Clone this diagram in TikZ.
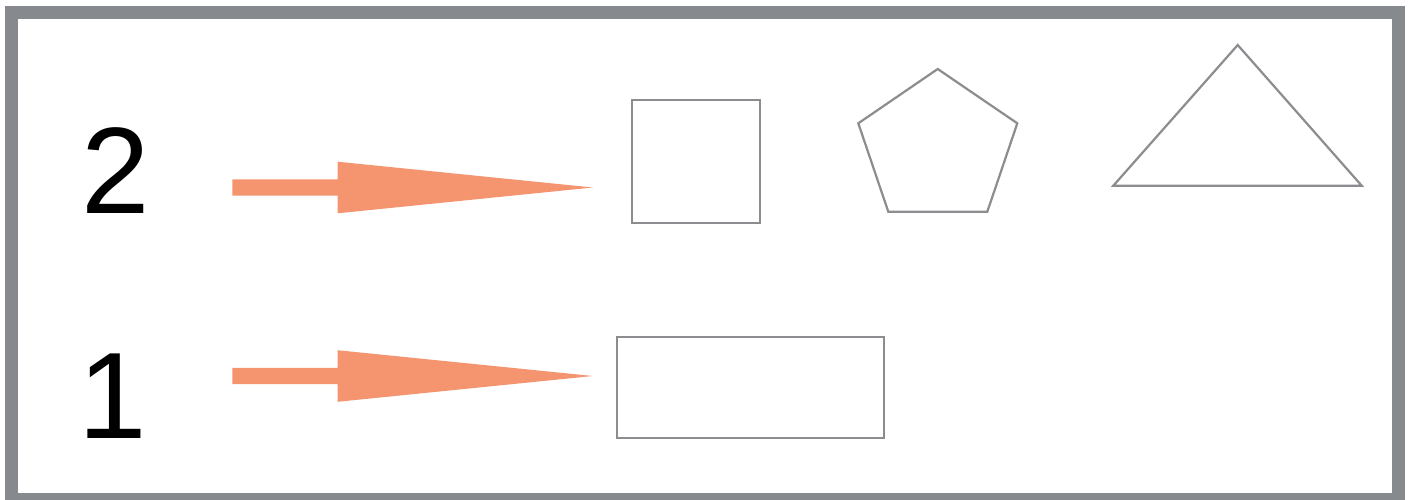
\documentclass[tikz,border=0pt]{standalone}
\usepackage{fontspec}
\setmainfont{Liberation Sans}
\definecolor{framegray}{HTML}{86898D}
\definecolor{shapegray}{HTML}{8C8D90}
\definecolor{arroworange}{HTML}{F4956F}
\tikzset{
  shapeline/.style={draw=shapegray, line width=2.2pt, line join=miter, fill=white},
  fatarrow/.style={fill=arroworange, draw=none},
  numlabel/.style={inner sep=0pt, anchor=base, font=\fontsize{123}{123}\selectfont}
}
\begin{document}
\begin{tikzpicture}[x=1pt, y=-1pt]
\useasboundingbox (0,0) rectangle (1416,499);
\fill[white] (0,0) rectangle (1416,499);
% frame
\draw[framegray, line width=13pt] (11.5,12.5) rectangle (1398.5,499.8);
% numbers
\node[numlabel] (two) at (116,213.3) {2};
\node[numlabel] (one) at (113,438.3) {1};
% arrows
\foreach \name/\yc in {arrowtwo/187.5, arrowone/376} {
  \fill[fatarrow] (232.3,\yc-8.2) -- (337.5,\yc-8.2) -- (337.5,\yc-25.8)
    -- (592.8,\yc) -- (337.5,\yc+25.8) -- (337.5,\yc+8.2) -- (232.3,\yc+8.2) -- cycle;
}
% shapes row 2
\draw[shapeline] (632.3,99.7) rectangle (759.7,223.3);
\draw[shapeline] (937.7,69) -- (1017.3,123.3) -- (987.3,211.7) -- (888.3,211.7) -- (858.3,123.3) -- cycle;
\draw[shapeline] (1237.7,45) -- (1361.7,185.7) -- (1113.3,185.7) -- cycle;
% shape row 1
\draw[shapeline] (617.3,336.7) rectangle (883.7,437.7);
\end{tikzpicture}
\end{document}
